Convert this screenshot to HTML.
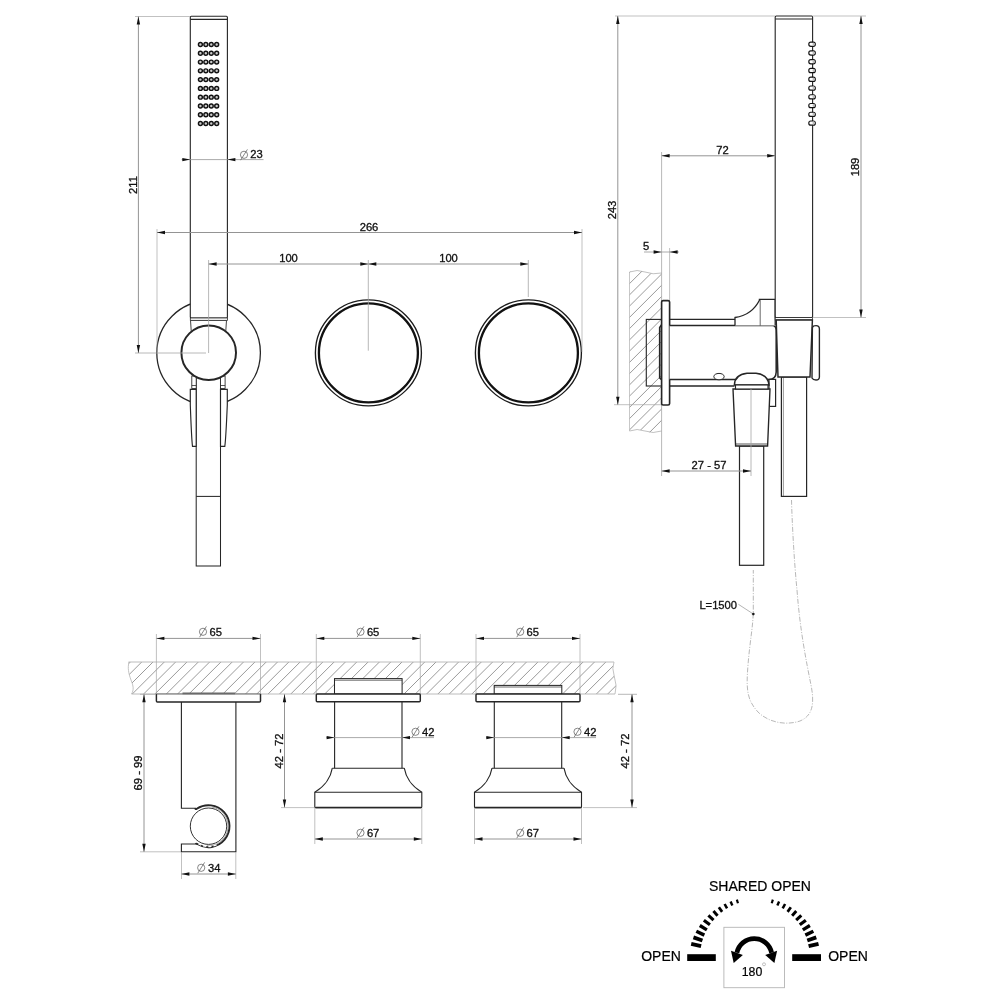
<!DOCTYPE html><html><head><meta charset="utf-8"><style>html,body{margin:0;padding:0;background:#fff}svg{display:block;will-change:transform}text{font-family:"Liberation Sans",sans-serif}</style></head><body><svg width="1000" height="1000" viewBox="0 0 1000 1000" font-family="Liberation Sans, sans-serif"><circle cx="208.6" cy="352.8" r="51.8" stroke="#262626" stroke-width="1.29" fill="none"/>
<circle cx="368.4" cy="352.9" r="53.0" stroke="#1a1a1a" stroke-width="1.35" fill="none"/>
<circle cx="368.4" cy="352.9" r="49.5" stroke="#111" stroke-width="2.3" fill="none"/>
<circle cx="528.4" cy="352.9" r="53.0" stroke="#1a1a1a" stroke-width="1.35" fill="none"/>
<circle cx="528.4" cy="352.9" r="49.5" stroke="#111" stroke-width="2.3" fill="none"/>
<rect x="196.2" y="372" width="24.3" height="194" rx="0" stroke="#262626" stroke-width="1.032" fill="#fff"/>
<line x1="196.2" y1="496.4" x2="220.5" y2="496.4" stroke="#262626" stroke-width="1.032" />
<path d="M190.3 389.4 L196.2 389.4 L196.2 446.4 L192.5 446.4 Q191.6 440 190.3 405 Z" stroke="#262626" stroke-width="1.161" fill="#fff" />
<path d="M227.3 389.4 L220.5 389.4 L220.5 446.4 L224.8 446.4 Q225.8 440 227.3 405 Z" stroke="#262626" stroke-width="1.161" fill="#fff" />
<rect x="191.8" y="376" width="4.4" height="12.5" rx="0" stroke="#262626" stroke-width="0.86" fill="#fff"/>
<rect x="220.5" y="376" width="4.6" height="12.5" rx="0" stroke="#262626" stroke-width="0.86" fill="#fff"/>
<line x1="191.8" y1="385.5" x2="196.2" y2="385.5" stroke="#262626" stroke-width="0.774" />
<line x1="220.5" y1="385.5" x2="225.1" y2="385.5" stroke="#262626" stroke-width="0.774" />
<path d="M190.5 320.3 L191.5 335 L225.5 335 L226.5 320.3 Z" stroke="#262626" stroke-width="0.86" fill="#fff" />
<rect x="190.3" y="16.3" width="37.1" height="301.7" rx="1" stroke="#262626" stroke-width="1.118" fill="#fff"/>
<line x1="190.3" y1="19.4" x2="227.4" y2="19.4" stroke="#262626" stroke-width="1.118" />
<rect x="190.3" y="318" width="37.1" height="2.3" rx="0" stroke="#262626" stroke-width="0.774" fill="#fff"/>
<circle cx="208.7" cy="352.7" r="27.3" stroke="#262626" stroke-width="1.978" fill="#fff"/>
<circle cx="200.4" cy="44.5" r="1.95" stroke="#111" stroke-width="1.45" fill="#ccc"/>
<circle cx="205.83" cy="44.5" r="1.95" stroke="#111" stroke-width="1.45" fill="#ccc"/>
<circle cx="211.26" cy="44.5" r="1.95" stroke="#111" stroke-width="1.45" fill="#ccc"/>
<circle cx="216.69" cy="44.5" r="1.95" stroke="#111" stroke-width="1.45" fill="#ccc"/>
<circle cx="200.4" cy="53.28" r="1.95" stroke="#111" stroke-width="1.45" fill="#ccc"/>
<circle cx="205.83" cy="53.28" r="1.95" stroke="#111" stroke-width="1.45" fill="#ccc"/>
<circle cx="211.26" cy="53.28" r="1.95" stroke="#111" stroke-width="1.45" fill="#ccc"/>
<circle cx="216.69" cy="53.28" r="1.95" stroke="#111" stroke-width="1.45" fill="#ccc"/>
<circle cx="200.4" cy="62.06" r="1.95" stroke="#111" stroke-width="1.45" fill="#ccc"/>
<circle cx="205.83" cy="62.06" r="1.95" stroke="#111" stroke-width="1.45" fill="#ccc"/>
<circle cx="211.26" cy="62.06" r="1.95" stroke="#111" stroke-width="1.45" fill="#ccc"/>
<circle cx="216.69" cy="62.06" r="1.95" stroke="#111" stroke-width="1.45" fill="#ccc"/>
<circle cx="200.4" cy="70.84" r="1.95" stroke="#111" stroke-width="1.45" fill="#ccc"/>
<circle cx="205.83" cy="70.84" r="1.95" stroke="#111" stroke-width="1.45" fill="#ccc"/>
<circle cx="211.26" cy="70.84" r="1.95" stroke="#111" stroke-width="1.45" fill="#ccc"/>
<circle cx="216.69" cy="70.84" r="1.95" stroke="#111" stroke-width="1.45" fill="#ccc"/>
<circle cx="200.4" cy="79.62" r="1.95" stroke="#111" stroke-width="1.45" fill="#ccc"/>
<circle cx="205.83" cy="79.62" r="1.95" stroke="#111" stroke-width="1.45" fill="#ccc"/>
<circle cx="211.26" cy="79.62" r="1.95" stroke="#111" stroke-width="1.45" fill="#ccc"/>
<circle cx="216.69" cy="79.62" r="1.95" stroke="#111" stroke-width="1.45" fill="#ccc"/>
<circle cx="200.4" cy="88.4" r="1.95" stroke="#111" stroke-width="1.45" fill="#ccc"/>
<circle cx="205.83" cy="88.4" r="1.95" stroke="#111" stroke-width="1.45" fill="#ccc"/>
<circle cx="211.26" cy="88.4" r="1.95" stroke="#111" stroke-width="1.45" fill="#ccc"/>
<circle cx="216.69" cy="88.4" r="1.95" stroke="#111" stroke-width="1.45" fill="#ccc"/>
<circle cx="200.4" cy="97.18" r="1.95" stroke="#111" stroke-width="1.45" fill="#ccc"/>
<circle cx="205.83" cy="97.18" r="1.95" stroke="#111" stroke-width="1.45" fill="#ccc"/>
<circle cx="211.26" cy="97.18" r="1.95" stroke="#111" stroke-width="1.45" fill="#ccc"/>
<circle cx="216.69" cy="97.18" r="1.95" stroke="#111" stroke-width="1.45" fill="#ccc"/>
<circle cx="200.4" cy="105.96" r="1.95" stroke="#111" stroke-width="1.45" fill="#ccc"/>
<circle cx="205.83" cy="105.96" r="1.95" stroke="#111" stroke-width="1.45" fill="#ccc"/>
<circle cx="211.26" cy="105.96" r="1.95" stroke="#111" stroke-width="1.45" fill="#ccc"/>
<circle cx="216.69" cy="105.96" r="1.95" stroke="#111" stroke-width="1.45" fill="#ccc"/>
<circle cx="200.4" cy="114.74" r="1.95" stroke="#111" stroke-width="1.45" fill="#ccc"/>
<circle cx="205.83" cy="114.74" r="1.95" stroke="#111" stroke-width="1.45" fill="#ccc"/>
<circle cx="211.26" cy="114.74" r="1.95" stroke="#111" stroke-width="1.45" fill="#ccc"/>
<circle cx="216.69" cy="114.74" r="1.95" stroke="#111" stroke-width="1.45" fill="#ccc"/>
<circle cx="200.4" cy="123.52" r="1.95" stroke="#111" stroke-width="1.45" fill="#ccc"/>
<circle cx="205.83" cy="123.52" r="1.95" stroke="#111" stroke-width="1.45" fill="#ccc"/>
<circle cx="211.26" cy="123.52" r="1.95" stroke="#111" stroke-width="1.45" fill="#ccc"/>
<circle cx="216.69" cy="123.52" r="1.95" stroke="#111" stroke-width="1.45" fill="#ccc"/>
<line x1="135" y1="16.5" x2="190" y2="16.5" stroke="#a6a6a6" stroke-width="0.7" />
<line x1="135" y1="353" x2="206" y2="353" stroke="#a6a6a6" stroke-width="0.8" />
<line x1="138.4" y1="16.5" x2="138.4" y2="353" stroke="#949494" stroke-width="1.0" />
<polygon points="138.40,16.50 136.70,24.50 140.10,24.50" fill="#111"/>
<polygon points="138.40,353.00 136.70,345.00 140.10,345.00" fill="#111"/>
<text x="136.5" y="185" font-size="11.2" text-anchor="middle" fill="#111" transform="rotate(-90 136.5 185)" stroke="#111" stroke-width="0.32">211</text>
<line x1="181.6" y1="159.6" x2="263.5" y2="159.6" stroke="#949494" stroke-width="0.8" />
<polygon points="190.30,159.60 182.30,157.90 182.30,161.30" fill="#111"/>
<polygon points="227.40,159.60 235.40,157.90 235.40,161.30" fill="#111"/>
<circle cx="244" cy="154.8" r="3.6" stroke="#555" stroke-width="0.7" fill="none"/>
<line x1="240.58" y1="160.20000000000002" x2="247.42" y2="149.4" stroke="#555" stroke-width="0.7" />
<text x="250.2" y="158" font-size="11.2" text-anchor="start" fill="#111" stroke="#111" stroke-width="0.32">23</text>
<line x1="157" y1="229" x2="157" y2="352" stroke="#a6a6a6" stroke-width="0.7" />
<line x1="582" y1="229" x2="582" y2="352" stroke="#a6a6a6" stroke-width="0.7" />
<line x1="157" y1="232.5" x2="582" y2="232.5" stroke="#949494" stroke-width="1.0" />
<polygon points="157.00,232.50 165.00,230.80 165.00,234.20" fill="#111"/>
<polygon points="582.00,232.50 574.00,230.80 574.00,234.20" fill="#111"/>
<text x="369" y="230.6" font-size="11.2" text-anchor="middle" fill="#111" stroke="#111" stroke-width="0.32">266</text>
<line x1="208.6" y1="260" x2="208.6" y2="353" stroke="#a6a6a6" stroke-width="0.8" />
<line x1="368.3" y1="260" x2="368.3" y2="350.7" stroke="#a6a6a6" stroke-width="0.8" />
<line x1="528.3" y1="260" x2="528.3" y2="297" stroke="#a6a6a6" stroke-width="0.8" />
<line x1="208.6" y1="264" x2="368.3" y2="264" stroke="#949494" stroke-width="1.0" />
<polygon points="208.60,264.00 216.60,262.30 216.60,265.70" fill="#111"/>
<polygon points="368.30,264.00 360.30,262.30 360.30,265.70" fill="#111"/>
<line x1="368.3" y1="264" x2="528.3" y2="264" stroke="#949494" stroke-width="1.0" />
<polygon points="368.30,264.00 376.30,262.30 376.30,265.70" fill="#111"/>
<polygon points="528.30,264.00 520.30,262.30 520.30,265.70" fill="#111"/>
<text x="288.5" y="261.8" font-size="11.2" text-anchor="middle" fill="#111" stroke="#111" stroke-width="0.32">100</text>
<text x="448.5" y="261.8" font-size="11.2" text-anchor="middle" fill="#111" stroke="#111" stroke-width="0.32">100</text>
<clipPath id="cw"><path d="M629.5 272 Q637 269 645 272 Q653 275 661.6 273 L661.6 431 Q653 434 645 431 Q637 428 629.5 431 Z"/></clipPath>
<g clip-path="url(#cw)"><line x1="600" y1="211.9" x2="670" y2="141.9" stroke="#6e6e6e" stroke-width="0.7"/><line x1="600" y1="223.2" x2="670" y2="153.2" stroke="#6e6e6e" stroke-width="0.7"/><line x1="600" y1="234.4" x2="670" y2="164.4" stroke="#6e6e6e" stroke-width="0.7"/><line x1="600" y1="245.7" x2="670" y2="175.7" stroke="#6e6e6e" stroke-width="0.7"/><line x1="600" y1="256.9" x2="670" y2="186.9" stroke="#6e6e6e" stroke-width="0.7"/><line x1="600" y1="268.1" x2="670" y2="198.2" stroke="#6e6e6e" stroke-width="0.7"/><line x1="600" y1="279.4" x2="670" y2="209.4" stroke="#6e6e6e" stroke-width="0.7"/><line x1="600" y1="290.6" x2="670" y2="220.7" stroke="#6e6e6e" stroke-width="0.7"/><line x1="600" y1="301.9" x2="670" y2="231.9" stroke="#6e6e6e" stroke-width="0.7"/><line x1="600" y1="313.1" x2="670" y2="243.2" stroke="#6e6e6e" stroke-width="0.7"/><line x1="600" y1="324.4" x2="670" y2="254.4" stroke="#6e6e6e" stroke-width="0.7"/><line x1="600" y1="335.6" x2="670" y2="265.6" stroke="#6e6e6e" stroke-width="0.7"/><line x1="600" y1="346.9" x2="670" y2="276.9" stroke="#6e6e6e" stroke-width="0.7"/><line x1="600" y1="358.1" x2="670" y2="288.1" stroke="#6e6e6e" stroke-width="0.7"/><line x1="600" y1="369.4" x2="670" y2="299.4" stroke="#6e6e6e" stroke-width="0.7"/><line x1="600" y1="380.6" x2="670" y2="310.6" stroke="#6e6e6e" stroke-width="0.7"/><line x1="600" y1="391.9" x2="670" y2="321.9" stroke="#6e6e6e" stroke-width="0.7"/><line x1="600" y1="403.1" x2="670" y2="333.1" stroke="#6e6e6e" stroke-width="0.7"/><line x1="600" y1="414.4" x2="670" y2="344.4" stroke="#6e6e6e" stroke-width="0.7"/><line x1="600" y1="425.6" x2="670" y2="355.6" stroke="#6e6e6e" stroke-width="0.7"/><line x1="600" y1="436.9" x2="670" y2="366.9" stroke="#6e6e6e" stroke-width="0.7"/><line x1="600" y1="448.1" x2="670" y2="378.1" stroke="#6e6e6e" stroke-width="0.7"/><line x1="600" y1="459.4" x2="670" y2="389.4" stroke="#6e6e6e" stroke-width="0.7"/><line x1="600" y1="470.6" x2="670" y2="400.6" stroke="#6e6e6e" stroke-width="0.7"/><line x1="600" y1="481.9" x2="670" y2="411.9" stroke="#6e6e6e" stroke-width="0.7"/><line x1="600" y1="493.1" x2="670" y2="423.1" stroke="#6e6e6e" stroke-width="0.7"/><line x1="600" y1="504.4" x2="670" y2="434.4" stroke="#6e6e6e" stroke-width="0.7"/><line x1="600" y1="515.6" x2="670" y2="445.6" stroke="#6e6e6e" stroke-width="0.7"/><line x1="600" y1="526.9" x2="670" y2="456.9" stroke="#6e6e6e" stroke-width="0.7"/><line x1="600" y1="538.1" x2="670" y2="468.1" stroke="#6e6e6e" stroke-width="0.7"/><line x1="600" y1="549.4" x2="670" y2="479.4" stroke="#6e6e6e" stroke-width="0.7"/><line x1="600" y1="560.6" x2="670" y2="490.6" stroke="#6e6e6e" stroke-width="0.7"/><line x1="600" y1="571.9" x2="670" y2="501.9" stroke="#6e6e6e" stroke-width="0.7"/><line x1="600" y1="583.1" x2="670" y2="513.1" stroke="#6e6e6e" stroke-width="0.7"/><line x1="600" y1="594.4" x2="670" y2="524.4" stroke="#6e6e6e" stroke-width="0.7"/><line x1="600" y1="605.6" x2="670" y2="535.6" stroke="#6e6e6e" stroke-width="0.7"/><line x1="600" y1="616.9" x2="670" y2="546.9" stroke="#6e6e6e" stroke-width="0.7"/><line x1="600" y1="628.1" x2="670" y2="558.1" stroke="#6e6e6e" stroke-width="0.7"/><line x1="600" y1="639.4" x2="670" y2="569.4" stroke="#6e6e6e" stroke-width="0.7"/><line x1="600" y1="650.6" x2="670" y2="580.6" stroke="#6e6e6e" stroke-width="0.7"/><line x1="600" y1="661.9" x2="670" y2="591.9" stroke="#6e6e6e" stroke-width="0.7"/><line x1="600" y1="673.1" x2="670" y2="603.1" stroke="#6e6e6e" stroke-width="0.7"/><line x1="600" y1="684.4" x2="670" y2="614.4" stroke="#6e6e6e" stroke-width="0.7"/><line x1="600" y1="695.6" x2="670" y2="625.6" stroke="#6e6e6e" stroke-width="0.7"/><line x1="600" y1="706.9" x2="670" y2="636.9" stroke="#6e6e6e" stroke-width="0.7"/><line x1="600" y1="718.1" x2="670" y2="648.1" stroke="#6e6e6e" stroke-width="0.7"/><line x1="600" y1="729.4" x2="670" y2="659.4" stroke="#6e6e6e" stroke-width="0.7"/><line x1="600" y1="740.6" x2="670" y2="670.6" stroke="#6e6e6e" stroke-width="0.7"/><line x1="600" y1="751.9" x2="670" y2="681.9" stroke="#6e6e6e" stroke-width="0.7"/><line x1="600" y1="763.1" x2="670" y2="693.1" stroke="#6e6e6e" stroke-width="0.7"/></g>
<path d="M629.5 272 Q637 269 645 272 Q653 275 661.6 273" stroke="#a6a6a6" stroke-width="0.7" fill="none" />
<path d="M629.5 431 Q637 428 645 431 Q653 434 661.6 431" stroke="#a6a6a6" stroke-width="0.7" fill="none" />
<line x1="629.5" y1="272" x2="629.5" y2="431" stroke="#b0b0b0" stroke-width="0.7" />
<rect x="646.3" y="319.4" width="15.3" height="66.6" rx="0" stroke="#262626" stroke-width="1.118" fill="none"/>
<path d="M661.6 324.8 L659.7 327.5 L659.7 377.9 L661.6 379.7" stroke="#262626" stroke-width="1.634" fill="none" />
<line x1="661.6" y1="152" x2="661.6" y2="476" stroke="#a6a6a6" stroke-width="0.8" />
<line x1="669.6" y1="248" x2="669.6" y2="300" stroke="#a6a6a6" stroke-width="0.7" />
<rect x="661.6" y="300.6" width="8" height="104.4" rx="1.5" stroke="#262626" stroke-width="1.634" fill="#fff"/>
<line x1="669.6" y1="319.4" x2="735" y2="319.4" stroke="#262626" stroke-width="1.376" />
<line x1="669.6" y1="386" x2="734.5" y2="386" stroke="#262626" stroke-width="1.376" />
<path d="M669.6 325.6 L772.5 325.6 Q776 326 776.2 330 L776.2 372 Q776 379.4 769 379.4 L669.6 379.4" stroke="#262626" stroke-width="1.548" fill="#fff" />
<path d="M735 325.6 L735 317.5 Q752 315 759.4 300.2 L759.4 299.4 L775.2 299.4 L775.2 325.6" stroke="#262626" stroke-width="1.29" fill="#fff" />
<line x1="760.2" y1="300" x2="760.2" y2="325.6" stroke="#262626" stroke-width="0.688" />
<ellipse cx="719" cy="376.6" rx="5.2" ry="3.2" stroke="#262626" stroke-width="1" fill="#fff"/>
<rect x="769" y="379.4" width="6.6" height="27" rx="0" stroke="#262626" stroke-width="1.204" fill="#fff"/>
<rect x="739.5" y="446" width="24.2" height="119.3" rx="0" stroke="#262626" stroke-width="1.204" fill="#fff"/>
<path d="M733 389 L770 389 L767.6 446 L735.6 446 Z" stroke="#262626" stroke-width="1.376" fill="#fff" />
<line x1="735.5" y1="444" x2="767.7" y2="444" stroke="#262626" stroke-width="0.774" />
<path d="M734.4 385 C734.6 378.5 739 374.2 747 373.3 L756 373.3 C764 374.2 768.6 378.5 769 385 Z" stroke="#262626" stroke-width="1.548" fill="#fff" />
<rect x="735.5" y="385" width="32.5" height="4" rx="0" stroke="#262626" stroke-width="1.118" fill="#fff"/>
<rect x="775.2" y="16" width="37.4" height="301.6" rx="1" stroke="#262626" stroke-width="1.118" fill="#fff"/>
<line x1="775.2" y1="19" x2="812.6" y2="19" stroke="#262626" stroke-width="1.118" />
<rect x="775.2" y="317.6" width="37.4" height="2.4" rx="0" stroke="#262626" stroke-width="0.774" fill="#fff"/>
<rect x="808.8" y="42.15" width="6.5" height="4.2" rx="2" stroke="#111" stroke-width="1.15" fill="#fff"/>
<rect x="812.6" y="42.75" width="2.1" height="3" rx="1" fill="#bbb"/>
<rect x="808.8" y="50.91" width="6.5" height="4.2" rx="2" stroke="#111" stroke-width="1.15" fill="#fff"/>
<rect x="812.6" y="51.51" width="2.1" height="3" rx="1" fill="#bbb"/>
<rect x="808.8" y="59.67" width="6.5" height="4.2" rx="2" stroke="#111" stroke-width="1.15" fill="#fff"/>
<rect x="812.6" y="60.27" width="2.1" height="3" rx="1" fill="#bbb"/>
<rect x="808.8" y="68.43" width="6.5" height="4.2" rx="2" stroke="#111" stroke-width="1.15" fill="#fff"/>
<rect x="812.6" y="69.03" width="2.1" height="3" rx="1" fill="#bbb"/>
<rect x="808.8" y="77.19" width="6.5" height="4.2" rx="2" stroke="#111" stroke-width="1.15" fill="#fff"/>
<rect x="812.6" y="77.79" width="2.1" height="3" rx="1" fill="#bbb"/>
<rect x="808.8" y="85.95" width="6.5" height="4.2" rx="2" stroke="#111" stroke-width="1.15" fill="#fff"/>
<rect x="812.6" y="86.55" width="2.1" height="3" rx="1" fill="#bbb"/>
<rect x="808.8" y="94.71" width="6.5" height="4.2" rx="2" stroke="#111" stroke-width="1.15" fill="#fff"/>
<rect x="812.6" y="95.31" width="2.1" height="3" rx="1" fill="#bbb"/>
<rect x="808.8" y="103.47" width="6.5" height="4.2" rx="2" stroke="#111" stroke-width="1.15" fill="#fff"/>
<rect x="812.6" y="104.07" width="2.1" height="3" rx="1" fill="#bbb"/>
<rect x="808.8" y="112.23" width="6.5" height="4.2" rx="2" stroke="#111" stroke-width="1.15" fill="#fff"/>
<rect x="812.6" y="112.83" width="2.1" height="3" rx="1" fill="#bbb"/>
<rect x="808.8" y="120.99" width="6.5" height="4.2" rx="2" stroke="#111" stroke-width="1.15" fill="#fff"/>
<rect x="812.6" y="121.59" width="2.1" height="3" rx="1" fill="#bbb"/>
<rect x="781.4" y="377" width="25.2" height="119.4" rx="0" stroke="#262626" stroke-width="1.204" fill="#fff"/>
<line x1="783.4" y1="377" x2="783.4" y2="496" stroke="#555" stroke-width="0.6" />
<path d="M776.2 320 L812.4 320 L810 377 L778 377 Z" stroke="#262626" stroke-width="1.462" fill="#fff" />
<path d="M812.4 327.5 Q813 325.6 816 325.6 Q819.4 325.6 819.4 329 L819.4 377 Q819.4 380 816 380 Q813 380 812 378 Z" stroke="#262626" stroke-width="1.376" fill="#fff" />
<line x1="615" y1="16" x2="775" y2="16" stroke="#a6a6a6" stroke-width="0.7" />
<line x1="614" y1="404.7" x2="661" y2="404.7" stroke="#a6a6a6" stroke-width="0.7" />
<line x1="617.8" y1="16" x2="617.8" y2="404.7" stroke="#949494" stroke-width="1.0" />
<polygon points="617.80,16.00 616.10,24.00 619.50,24.00" fill="#111"/>
<polygon points="617.80,404.70 616.10,396.70 619.50,396.70" fill="#111"/>
<text x="616" y="210" font-size="11.2" text-anchor="middle" fill="#111" transform="rotate(-90 616 210)" stroke="#111" stroke-width="0.32">243</text>
<line x1="812.6" y1="16" x2="866" y2="16" stroke="#a6a6a6" stroke-width="0.7" />
<line x1="812.6" y1="317.5" x2="866" y2="317.5" stroke="#a6a6a6" stroke-width="0.7" />
<line x1="861" y1="16" x2="861" y2="317.5" stroke="#949494" stroke-width="1.0" />
<polygon points="861.00,16.00 859.30,24.00 862.70,24.00" fill="#111"/>
<polygon points="861.00,317.50 859.30,309.50 862.70,309.50" fill="#111"/>
<text x="859" y="167" font-size="11.2" text-anchor="middle" fill="#111" transform="rotate(-90 859 167)" stroke="#111" stroke-width="0.32">189</text>
<line x1="661.6" y1="155.8" x2="775.2" y2="155.8" stroke="#949494" stroke-width="1.0" />
<polygon points="661.60,155.80 669.60,154.10 669.60,157.50" fill="#111"/>
<polygon points="775.20,155.80 767.20,154.10 767.20,157.50" fill="#111"/>
<text x="722.5" y="154" font-size="11.2" text-anchor="middle" fill="#111" stroke="#111" stroke-width="0.32">72</text>
<line x1="644" y1="252" x2="679" y2="252" stroke="#949494" stroke-width="0.8" />
<polygon points="661.60,252.00 653.60,250.30 653.60,253.70" fill="#111"/>
<polygon points="669.60,252.00 677.60,250.30 677.60,253.70" fill="#111"/>
<text x="646" y="250" font-size="11.2" text-anchor="middle" fill="#111" stroke="#111" stroke-width="0.32">5</text>
<line x1="751" y1="389" x2="751" y2="476" stroke="#a6a6a6" stroke-width="0.8" />
<line x1="661.6" y1="471" x2="751" y2="471" stroke="#949494" stroke-width="1.0" />
<polygon points="661.60,471.00 669.60,469.30 669.60,472.70" fill="#111"/>
<polygon points="751.00,471.00 743.00,469.30 743.00,472.70" fill="#111"/>
<text x="709" y="468.6" font-size="11.2" text-anchor="middle" fill="#111" stroke="#111" stroke-width="0.32">27 - 57</text>
<path d="M791.5 500 C792 520 794 560 797 590 C800 630 806 660 811 685 C815 705 812 716 800 721 C785 726 768 722 758 712 C747 700 746 690 748 665 C750 640 753.3 625 753.3 610 L753.3 570" stroke="#a6a6a6" stroke-width="0.8" fill="none" stroke-dasharray="5 1.5 1 1.5"/>
<line x1="738.4" y1="604.3" x2="753.3" y2="614" stroke="#949494" stroke-width="0.7" />
<circle cx="753.3" cy="614" r="1.1" stroke="#111" stroke-width="0.5" fill="#111"/>
<text x="699.4" y="609.2" font-size="11.2" text-anchor="start" fill="#111" stroke="#111" stroke-width="0.32">L=1500</text>
<clipPath id="cb"><path d="M128.5 662 L614 662 Q611.6 668 614.2 676 Q617.6 686 615 694 L131.5 694 C134 690 133.5 686 131 680 C128.5 673 127.5 668 129 662 Z"/></clipPath>
<g clip-path="url(#cb)"><line x1="92.3" y1="700" x2="136.3" y2="656" stroke="#6e6e6e" stroke-width="0.7"/><line x1="103.7" y1="700" x2="147.7" y2="656" stroke="#6e6e6e" stroke-width="0.7"/><line x1="115.0" y1="700" x2="159.0" y2="656" stroke="#6e6e6e" stroke-width="0.7"/><line x1="126.3" y1="700" x2="170.3" y2="656" stroke="#6e6e6e" stroke-width="0.7"/><line x1="137.6" y1="700" x2="181.6" y2="656" stroke="#6e6e6e" stroke-width="0.7"/><line x1="148.9" y1="700" x2="192.9" y2="656" stroke="#6e6e6e" stroke-width="0.7"/><line x1="160.3" y1="700" x2="204.3" y2="656" stroke="#6e6e6e" stroke-width="0.7"/><line x1="171.6" y1="700" x2="215.6" y2="656" stroke="#6e6e6e" stroke-width="0.7"/><line x1="182.9" y1="700" x2="226.9" y2="656" stroke="#6e6e6e" stroke-width="0.7"/><line x1="194.2" y1="700" x2="238.2" y2="656" stroke="#6e6e6e" stroke-width="0.7"/><line x1="205.5" y1="700" x2="249.5" y2="656" stroke="#6e6e6e" stroke-width="0.7"/><line x1="216.9" y1="700" x2="260.9" y2="656" stroke="#6e6e6e" stroke-width="0.7"/><line x1="228.2" y1="700" x2="272.2" y2="656" stroke="#6e6e6e" stroke-width="0.7"/><line x1="239.5" y1="700" x2="283.5" y2="656" stroke="#6e6e6e" stroke-width="0.7"/><line x1="250.8" y1="700" x2="294.8" y2="656" stroke="#6e6e6e" stroke-width="0.7"/><line x1="262.1" y1="700" x2="306.1" y2="656" stroke="#6e6e6e" stroke-width="0.7"/><line x1="273.5" y1="700" x2="317.5" y2="656" stroke="#6e6e6e" stroke-width="0.7"/><line x1="284.8" y1="700" x2="328.8" y2="656" stroke="#6e6e6e" stroke-width="0.7"/><line x1="296.1" y1="700" x2="340.1" y2="656" stroke="#6e6e6e" stroke-width="0.7"/><line x1="307.4" y1="700" x2="351.4" y2="656" stroke="#6e6e6e" stroke-width="0.7"/><line x1="318.7" y1="700" x2="362.7" y2="656" stroke="#6e6e6e" stroke-width="0.7"/><line x1="330.1" y1="700" x2="374.1" y2="656" stroke="#6e6e6e" stroke-width="0.7"/><line x1="341.4" y1="700" x2="385.4" y2="656" stroke="#6e6e6e" stroke-width="0.7"/><line x1="352.7" y1="700" x2="396.7" y2="656" stroke="#6e6e6e" stroke-width="0.7"/><line x1="364.0" y1="700" x2="408.0" y2="656" stroke="#6e6e6e" stroke-width="0.7"/><line x1="375.3" y1="700" x2="419.3" y2="656" stroke="#6e6e6e" stroke-width="0.7"/><line x1="386.7" y1="700" x2="430.7" y2="656" stroke="#6e6e6e" stroke-width="0.7"/><line x1="398.0" y1="700" x2="442.0" y2="656" stroke="#6e6e6e" stroke-width="0.7"/><line x1="409.3" y1="700" x2="453.3" y2="656" stroke="#6e6e6e" stroke-width="0.7"/><line x1="420.6" y1="700" x2="464.6" y2="656" stroke="#6e6e6e" stroke-width="0.7"/><line x1="431.9" y1="700" x2="475.9" y2="656" stroke="#6e6e6e" stroke-width="0.7"/><line x1="443.3" y1="700" x2="487.3" y2="656" stroke="#6e6e6e" stroke-width="0.7"/><line x1="454.6" y1="700" x2="498.6" y2="656" stroke="#6e6e6e" stroke-width="0.7"/><line x1="465.9" y1="700" x2="509.9" y2="656" stroke="#6e6e6e" stroke-width="0.7"/><line x1="477.2" y1="700" x2="521.2" y2="656" stroke="#6e6e6e" stroke-width="0.7"/><line x1="488.5" y1="700" x2="532.5" y2="656" stroke="#6e6e6e" stroke-width="0.7"/><line x1="499.9" y1="700" x2="543.9" y2="656" stroke="#6e6e6e" stroke-width="0.7"/><line x1="511.2" y1="700" x2="555.2" y2="656" stroke="#6e6e6e" stroke-width="0.7"/><line x1="522.5" y1="700" x2="566.5" y2="656" stroke="#6e6e6e" stroke-width="0.7"/><line x1="533.8" y1="700" x2="577.8" y2="656" stroke="#6e6e6e" stroke-width="0.7"/><line x1="545.1" y1="700" x2="589.1" y2="656" stroke="#6e6e6e" stroke-width="0.7"/><line x1="556.5" y1="700" x2="600.5" y2="656" stroke="#6e6e6e" stroke-width="0.7"/><line x1="567.8" y1="700" x2="611.8" y2="656" stroke="#6e6e6e" stroke-width="0.7"/><line x1="579.1" y1="700" x2="623.1" y2="656" stroke="#6e6e6e" stroke-width="0.7"/><line x1="590.4" y1="700" x2="634.4" y2="656" stroke="#6e6e6e" stroke-width="0.7"/><line x1="601.7" y1="700" x2="645.7" y2="656" stroke="#6e6e6e" stroke-width="0.7"/><line x1="613.1" y1="700" x2="657.1" y2="656" stroke="#6e6e6e" stroke-width="0.7"/><line x1="624.4" y1="700" x2="668.4" y2="656" stroke="#6e6e6e" stroke-width="0.7"/><line x1="635.7" y1="700" x2="679.7" y2="656" stroke="#6e6e6e" stroke-width="0.7"/></g>
<line x1="128.5" y1="662" x2="614" y2="662" stroke="#b4b4b4" stroke-width="0.9" />
<line x1="131.5" y1="694" x2="615" y2="694" stroke="#b4b4b4" stroke-width="0.9" />
<path d="M129 662 C127.5 668 128.5 673 131 680 C133.5 686 134 690 131.5 694" stroke="#b4b4b4" stroke-width="0.8" fill="none" />
<path d="M614 662 Q611.6 668 614.2 676 Q617.6 686 615 694" stroke="#b4b4b4" stroke-width="0.8" fill="none" />
<line x1="156.4" y1="634" x2="156.4" y2="694" stroke="#a6a6a6" stroke-width="0.7" />
<line x1="260.5" y1="634" x2="260.5" y2="694" stroke="#a6a6a6" stroke-width="0.7" />
<line x1="156.4" y1="638.4" x2="260.5" y2="638.4" stroke="#949494" stroke-width="1.0" />
<polygon points="156.40,638.40 164.40,636.70 164.40,640.10" fill="#111"/>
<polygon points="260.50,638.40 252.50,636.70 252.50,640.10" fill="#111"/>
<circle cx="203" cy="631.8" r="3.6" stroke="#555" stroke-width="0.7" fill="none"/>
<line x1="199.58" y1="637.1999999999999" x2="206.42" y2="626.4" stroke="#555" stroke-width="0.7" />
<text x="209.5" y="636" font-size="11.2" text-anchor="start" fill="#111" stroke="#111" stroke-width="0.32">65</text>
<rect x="156.4" y="694" width="104.1" height="8" fill="#fff"/>
<path d="M156.4 694 L156.4 701 Q156.4 702 157.4 702 L259.5 702 Q260.5 702 260.5 701 L260.5 694" stroke="#262626" stroke-width="1.462" fill="none" />
<line x1="156.4" y1="694" x2="260.5" y2="694" stroke="#555" stroke-width="0.9" />
<line x1="182.5" y1="693.4" x2="235" y2="693.4" stroke="#6a6a6a" stroke-width="1.7" />
<path d="M181.4 702 L181.4 808.3 L196 808.3 M196 844 L181.4 844 L181.4 851.7 L235.9 851.7 L235.9 702" stroke="#262626" stroke-width="1.118" fill="none" />
<path d="M195 808.3 Q195.3 809.4 196.76 808.79 A21.0 21.0 0 1 1 197.37 844.01 Q195.9 843.6 195.5 844" stroke="#262626" stroke-width="1.892" fill="none" />
<circle cx="208.5" cy="826.2" r="18.2" stroke="#262626" stroke-width="0.946" fill="#fff"/>
<path d="M211.89 806.95 A19.55 19.55 0 0 1 206.80 845.68" stroke="#666" stroke-width="0.6" fill="none" />
<path d="M198.35 843.78 A20.3 20.3 0 0 0 218.03 844.12" stroke="#fff" stroke-width="1.3" fill="none" stroke-dasharray="3.2 2"/>
<line x1="140" y1="694.3" x2="156" y2="694.3" stroke="#a6a6a6" stroke-width="0.7" />
<line x1="140" y1="851.8" x2="181" y2="851.8" stroke="#a6a6a6" stroke-width="0.7" />
<line x1="144" y1="694.3" x2="144" y2="851.8" stroke="#949494" stroke-width="1.0" />
<polygon points="144.00,694.30 142.30,702.30 145.70,702.30" fill="#111"/>
<polygon points="144.00,851.80 142.30,843.80 145.70,843.80" fill="#111"/>
<text x="141.5" y="773" font-size="11.2" text-anchor="middle" fill="#111" transform="rotate(-90 141.5 773)" stroke="#111" stroke-width="0.32">69 - 99</text>
<line x1="181.5" y1="852" x2="181.5" y2="879" stroke="#a6a6a6" stroke-width="0.7" />
<line x1="235.8" y1="852" x2="235.8" y2="879" stroke="#a6a6a6" stroke-width="0.7" />
<line x1="181.4" y1="874" x2="235.9" y2="874" stroke="#949494" stroke-width="1.0" />
<polygon points="181.40,874.00 189.40,872.30 189.40,875.70" fill="#111"/>
<polygon points="235.90,874.00 227.90,872.30 227.90,875.70" fill="#111"/>
<circle cx="201.2" cy="867.8" r="3.6" stroke="#555" stroke-width="0.7" fill="none"/>
<line x1="197.78" y1="873.1999999999999" x2="204.61999999999998" y2="862.4" stroke="#555" stroke-width="0.7" />
<text x="208" y="871.8" font-size="11.2" text-anchor="start" fill="#111" stroke="#111" stroke-width="0.32">34</text>
<line x1="316.3" y1="634" x2="316.3" y2="694" stroke="#a6a6a6" stroke-width="0.7" />
<line x1="420.3" y1="634" x2="420.3" y2="694" stroke="#a6a6a6" stroke-width="0.7" />
<line x1="316.3" y1="638.4" x2="420.3" y2="638.4" stroke="#949494" stroke-width="1.0" />
<polygon points="316.30,638.40 324.30,636.70 324.30,640.10" fill="#111"/>
<polygon points="420.30,638.40 412.30,636.70 412.30,640.10" fill="#111"/>
<circle cx="360.5" cy="631.8" r="3.6" stroke="#555" stroke-width="0.7" fill="none"/>
<line x1="357.08" y1="637.1999999999999" x2="363.92" y2="626.4" stroke="#555" stroke-width="0.7" />
<text x="366.90000000000003" y="636" font-size="11.2" text-anchor="start" fill="#111" stroke="#111" stroke-width="0.32">65</text>
<rect x="334.5" y="678.6" width="67.6" height="15.399999999999977" rx="0" stroke="#262626" stroke-width="1.032" fill="#fff"/>
<line x1="334.5" y1="680.2" x2="402.1" y2="680.2" stroke="#262626" stroke-width="0.688" />
<rect x="316.3" y="694" width="104" height="7.8" rx="1" stroke="#262626" stroke-width="1.462" fill="#fff"/>
<line x1="334.6" y1="702" x2="334.6" y2="768.2" stroke="#262626" stroke-width="1.118" />
<line x1="402.0" y1="702" x2="402.0" y2="768.2" stroke="#262626" stroke-width="1.118" />
<path d="M332.3 768.2 L404.3 768.2" stroke="#262626" stroke-width="1.118" fill="none" />
<path d="M332.3 768.2 C331.0 776 325.8 786 314.8 792.2 L314.8 806.7 Q314.8 807.7 315.8 807.7 L420.8 807.7 Q421.8 807.7 421.8 806.7 L421.8 792.2 C410.8 786 405.6 776 404.3 768.2" stroke="#262626" stroke-width="1.118" fill="none" />
<line x1="314.8" y1="792.2" x2="421.8" y2="792.2" stroke="#262626" stroke-width="1.032" />
<line x1="315.5" y1="807.5" x2="421.1" y2="807.5" stroke="#262626" stroke-width="1.548" />
<line x1="326.3" y1="737.6" x2="434.0" y2="737.6" stroke="#949494" stroke-width="0.8" />
<polygon points="334.60,737.60 326.60,735.90 326.60,739.30" fill="#111"/>
<polygon points="402.00,737.60 410.00,735.90 410.00,739.30" fill="#111"/>
<circle cx="415.5" cy="731.8" r="3.6" stroke="#555" stroke-width="0.7" fill="none"/>
<line x1="412.08" y1="737.1999999999999" x2="418.92" y2="726.4" stroke="#555" stroke-width="0.7" />
<text x="422.0" y="735.5" font-size="11.2" text-anchor="start" fill="#111" stroke="#111" stroke-width="0.32">42</text>
<line x1="314.8" y1="808" x2="314.8" y2="844" stroke="#a6a6a6" stroke-width="0.7" />
<line x1="421.8" y1="808" x2="421.8" y2="844" stroke="#a6a6a6" stroke-width="0.7" />
<line x1="314.8" y1="839" x2="421.8" y2="839" stroke="#949494" stroke-width="1.0" />
<polygon points="314.80,839.00 322.80,837.30 322.80,840.70" fill="#111"/>
<polygon points="421.80,839.00 413.80,837.30 413.80,840.70" fill="#111"/>
<circle cx="360.5" cy="832.8" r="3.6" stroke="#555" stroke-width="0.7" fill="none"/>
<line x1="357.08" y1="838.1999999999999" x2="363.92" y2="827.4" stroke="#555" stroke-width="0.7" />
<text x="366.90000000000003" y="837" font-size="11.2" text-anchor="start" fill="#111" stroke="#111" stroke-width="0.32">67</text>
<line x1="476.0" y1="634" x2="476.0" y2="694" stroke="#a6a6a6" stroke-width="0.7" />
<line x1="580.0" y1="634" x2="580.0" y2="694" stroke="#a6a6a6" stroke-width="0.7" />
<line x1="476.0" y1="638.4" x2="580.0" y2="638.4" stroke="#949494" stroke-width="1.0" />
<polygon points="476.00,638.40 484.00,636.70 484.00,640.10" fill="#111"/>
<polygon points="580.00,638.40 572.00,636.70 572.00,640.10" fill="#111"/>
<circle cx="520.2" cy="631.8" r="3.6" stroke="#555" stroke-width="0.7" fill="none"/>
<line x1="516.7800000000001" y1="637.1999999999999" x2="523.62" y2="626.4" stroke="#555" stroke-width="0.7" />
<text x="526.6" y="636" font-size="11.2" text-anchor="start" fill="#111" stroke="#111" stroke-width="0.32">65</text>
<rect x="494.2" y="685.4" width="67.6" height="8.600000000000023" rx="0" stroke="#262626" stroke-width="1.032" fill="#fff"/>
<line x1="494.2" y1="687.0" x2="561.8" y2="687.0" stroke="#262626" stroke-width="0.688" />
<rect x="476.0" y="694" width="104" height="7.8" rx="1" stroke="#262626" stroke-width="1.462" fill="#fff"/>
<line x1="494.3" y1="702" x2="494.3" y2="768.2" stroke="#262626" stroke-width="1.118" />
<line x1="561.7" y1="702" x2="561.7" y2="768.2" stroke="#262626" stroke-width="1.118" />
<path d="M492.0 768.2 L564.0 768.2" stroke="#262626" stroke-width="1.118" fill="none" />
<path d="M492.0 768.2 C490.7 776 485.5 786 474.5 792.2 L474.5 806.7 Q474.5 807.7 475.5 807.7 L580.5 807.7 Q581.5 807.7 581.5 806.7 L581.5 792.2 C570.5 786 565.3 776 564.0 768.2" stroke="#262626" stroke-width="1.118" fill="none" />
<line x1="474.5" y1="792.2" x2="581.5" y2="792.2" stroke="#262626" stroke-width="1.032" />
<line x1="475.2" y1="807.5" x2="580.8" y2="807.5" stroke="#262626" stroke-width="1.548" />
<line x1="486.0" y1="737.6" x2="596.0" y2="737.6" stroke="#949494" stroke-width="0.8" />
<polygon points="494.30,737.60 486.30,735.90 486.30,739.30" fill="#111"/>
<polygon points="561.70,737.60 569.70,735.90 569.70,739.30" fill="#111"/>
<circle cx="577.5" cy="731.8" r="3.6" stroke="#555" stroke-width="0.7" fill="none"/>
<line x1="574.08" y1="737.1999999999999" x2="580.92" y2="726.4" stroke="#555" stroke-width="0.7" />
<text x="584.0" y="735.5" font-size="11.2" text-anchor="start" fill="#111" stroke="#111" stroke-width="0.32">42</text>
<line x1="474.5" y1="808" x2="474.5" y2="844" stroke="#a6a6a6" stroke-width="0.7" />
<line x1="581.5" y1="808" x2="581.5" y2="844" stroke="#a6a6a6" stroke-width="0.7" />
<line x1="474.5" y1="839" x2="581.5" y2="839" stroke="#949494" stroke-width="1.0" />
<polygon points="474.50,839.00 482.50,837.30 482.50,840.70" fill="#111"/>
<polygon points="581.50,839.00 573.50,837.30 573.50,840.70" fill="#111"/>
<circle cx="520.2" cy="832.8" r="3.6" stroke="#555" stroke-width="0.7" fill="none"/>
<line x1="516.7800000000001" y1="838.1999999999999" x2="523.62" y2="827.4" stroke="#555" stroke-width="0.7" />
<text x="526.6" y="837" font-size="11.2" text-anchor="start" fill="#111" stroke="#111" stroke-width="0.32">67</text>
<line x1="284.5" y1="694.3" x2="284.5" y2="807.6" stroke="#949494" stroke-width="1.0" />
<polygon points="284.50,694.30 282.80,702.30 286.20,702.30" fill="#111"/>
<polygon points="284.50,807.60 282.80,799.60 286.20,799.60" fill="#111"/>
<text x="283" y="751" font-size="11.2" text-anchor="middle" fill="#111" transform="rotate(-90 283 751)" stroke="#111" stroke-width="0.32">42 - 72</text>
<line x1="281" y1="807.6" x2="314" y2="807.6" stroke="#a6a6a6" stroke-width="0.7" />
<line x1="618" y1="694.3" x2="637" y2="694.3" stroke="#a6a6a6" stroke-width="0.8" />
<line x1="583" y1="807.6" x2="637" y2="807.6" stroke="#a6a6a6" stroke-width="0.7" />
<line x1="632" y1="694.3" x2="632" y2="807.6" stroke="#949494" stroke-width="1.0" />
<polygon points="632.00,694.30 630.30,702.30 633.70,702.30" fill="#111"/>
<polygon points="632.00,807.60 630.30,799.60 633.70,799.60" fill="#111"/>
<text x="629.2" y="751" font-size="11.2" text-anchor="middle" fill="#111" transform="rotate(-90 629.2 751)" stroke="#111" stroke-width="0.32">42 - 72</text>
<text x="760" y="891" font-size="14" text-anchor="middle" fill="#000" stroke="#000" stroke-width="0.2">SHARED OPEN</text>
<text x="661" y="961" font-size="14" text-anchor="middle" fill="#000" stroke="#000" stroke-width="0.2">OPEN</text>
<text x="848" y="961" font-size="14" text-anchor="middle" fill="#000" stroke="#000" stroke-width="0.2">OPEN</text>
<rect x="687.2" y="954.2" width="28.6" height="6.8" rx="0" stroke="none" stroke-width="0" fill="#000"/>
<rect x="792.2" y="954.2" width="28.8" height="6.8" rx="0" stroke="none" stroke-width="0" fill="#000"/>
<rect x="723.9" y="927.3" width="60.6" height="60.4" rx="0" stroke="#b4b4b4" stroke-width="0.9" fill="#fff"/>
<text x="752" y="975.8" font-size="12.3" text-anchor="middle" fill="#000" stroke="#000" stroke-width="0.2">180</text>
<circle cx="764" cy="964.3" r="1.5" stroke="#999" stroke-width="0.6" fill="none"/>
<path d="M736.9 952.75 A17.7 17.7 0 0 1 771.6 952.75" stroke="#000" stroke-width="4.8" fill="none" />
<polygon points="731,950.8 742.9,954.9 733.7,962.9" fill="#000"/>
<polygon points="777.1,950.8 765.2,954.9 774.4,962.9" fill="#000"/>
<polygon points="700.64,948.09 690.73,945.69 691.65,941.90 701.56,944.30" fill="#000"/>
<polygon points="701.82,942.34 692.81,939.14 694.06,935.62 703.06,938.82" fill="#000"/>
<polygon points="703.60,936.71 695.55,932.86 697.08,929.65 705.13,933.49" fill="#000"/>
<polygon points="705.99,931.27 698.92,926.94 700.69,924.05 707.76,928.38" fill="#000"/>
<polygon points="708.95,926.08 702.88,921.44 704.84,918.88 710.90,923.52" fill="#000"/>
<polygon points="712.46,921.21 707.37,916.40 709.47,914.19 714.56,919.00" fill="#000"/>
<polygon points="716.49,916.72 712.35,911.89 714.53,910.02 718.68,914.84" fill="#000"/>
<polygon points="721.00,912.65 717.74,907.95 719.97,906.41 723.22,911.11" fill="#000"/>
<polygon points="725.93,909.07 723.49,904.61 725.72,903.39 728.16,907.85" fill="#000"/>
<polygon points="731.25,906.01 729.53,901.91 731.72,901.00 733.43,905.09" fill="#000"/>
<polygon points="736.89,903.51 735.79,899.88 737.90,899.24 738.99,902.88" fill="#000"/>
<polygon points="808.14,944.30 818.05,941.90 818.97,945.69 809.06,948.09" fill="#000"/>
<polygon points="806.64,938.82 815.64,935.62 816.89,939.14 807.88,942.34" fill="#000"/>
<polygon points="804.57,933.49 812.62,929.65 814.15,932.86 806.10,936.71" fill="#000"/>
<polygon points="801.94,928.38 809.01,924.05 810.78,926.94 803.71,931.27" fill="#000"/>
<polygon points="798.80,923.52 804.86,918.88 806.82,921.44 800.75,926.08" fill="#000"/>
<polygon points="795.14,919.00 800.23,914.19 802.33,916.40 797.24,921.21" fill="#000"/>
<polygon points="791.02,914.84 795.17,910.02 797.35,911.89 793.21,916.72" fill="#000"/>
<polygon points="786.48,911.11 789.73,906.41 791.96,907.95 788.70,912.65" fill="#000"/>
<polygon points="781.54,907.85 783.98,903.39 786.21,904.61 783.77,909.07" fill="#000"/>
<polygon points="776.27,905.09 777.98,901.00 780.17,901.91 778.45,906.01" fill="#000"/>
<polygon points="770.71,902.88 771.80,899.24 773.91,899.88 772.81,903.51" fill="#000"/></svg></body></html>
